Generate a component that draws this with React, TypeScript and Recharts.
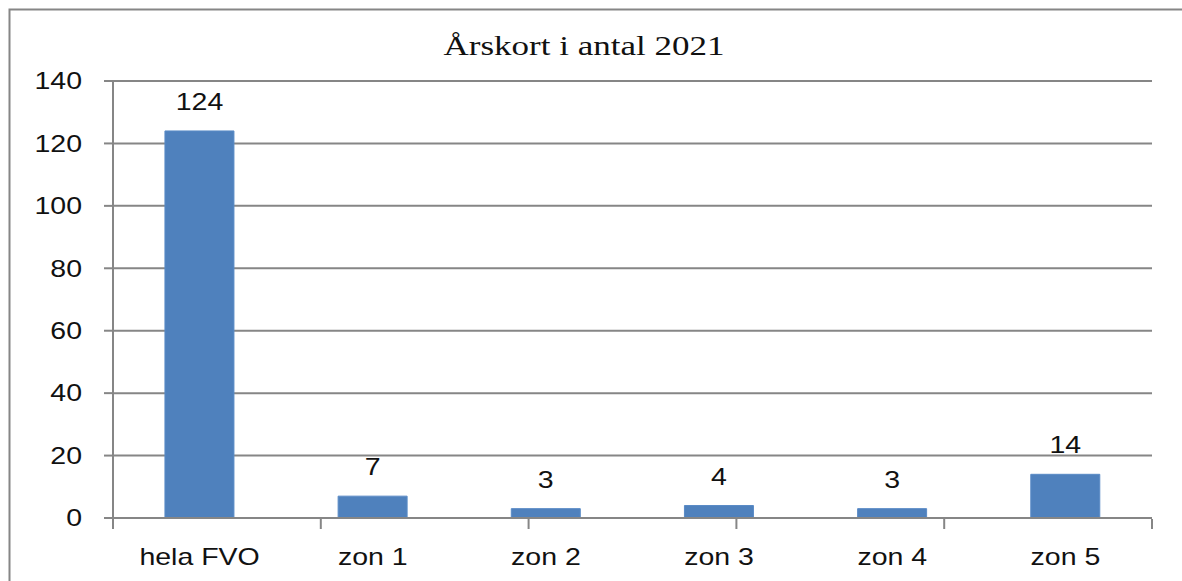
import { BarChart, Bar, XAxis, YAxis, CartesianGrid, LabelList } from "recharts";

const categories = ["hela FVO", "zon 1", "zon 2", "zon 3", "zon 4", "zon 5"];
const values = [124, 7, 3, 4, 3, 14];
const yTicks = [0, 20, 40, 60, 80, 100, 120, 140];
const title = "Årskort i antal 2021";

// category boundaries (0..n) for the tick marks under the x axis
const edges = categories.map((_, i) => i).concat(categories.length);

const data = categories.map((name, i) => ({ name, value: values[i] }));

const W = 1182;
const H = 581;
const GRAY = "#868686";
const BLUE = "#4f81bd";
const SANS = "'Liberation Sans', Arial, sans-serif";
const STRETCH = 1.24;

function YTick(props: any) {
  const { x, y, payload } = props;
  return (
    <text
      transform={`translate(${x},${y}) scale(${STRETCH},1)`}
      textAnchor="end"
      dy="0.36em"
      fontFamily={SANS}
      fontSize={23}
      fill="#111"
    >
      {payload.value}
    </text>
  );
}

function XTick(props: any) {
  const { x, y, payload } = props;
  return (
    <text
      transform={`translate(${x},${y + 47}) scale(${STRETCH},1)`}
      textAnchor="middle"
      fontFamily={SANS}
      fontSize={23}
      fill="#111"
    >
      {payload.value}
    </text>
  );
}

function BarLabel(props: any) {
  const { x, y, width, value } = props;
  return (
    <text
      transform={`translate(${x + width / 2},${y - 21}) scale(${STRETCH},1)`}
      textAnchor="middle"
      fontFamily={SANS}
      fontSize={23}
      fill="#111"
    >
      {value}
    </text>
  );
}

const NoTick = () => <g />;

export default function App() {
  return (
    <div style={{ position: "absolute", left: 0, top: 0, width: W, height: H, overflow: "hidden", background: "#fff" }}>
      <BarChart
        width={W}
        height={H}
        data={data}
        margin={{ top: 81, right: 30, bottom: 61, left: 0 }}
        barCategoryGap="30%"
      >
        <CartesianGrid vertical={false} stroke={GRAY} strokeWidth={2} />
        <XAxis
          dataKey="name"
          height={1}
          axisLine={{ stroke: GRAY, strokeWidth: 2 }}
          tickLine={false}
          tickSize={0}
          tickMargin={0}
          tick={<XTick />}
          interval={0}
        />
        <XAxis
          xAxisId="edges"
          type="number"
          domain={[0, categories.length]}
          ticks={edges}
          tick={<NoTick />}
          axisLine={false}
          tickLine={{ stroke: GRAY, strokeWidth: 2 }}
          tickSize={10}
          height={1}
        />
        <YAxis
          width={113}
          domain={[0, 140]}
          ticks={yTicks}
          axisLine={{ stroke: GRAY, strokeWidth: 2 }}
          tickLine={{ stroke: GRAY, strokeWidth: 2 }}
          tickSize={9}
          tickMargin={22}
          tick={<YTick />}
        />
        <Bar dataKey="value" fill={BLUE} stroke="#5a8bc6" strokeWidth={1} isAnimationActive={false}>
          <LabelList dataKey="value" content={<BarLabel />} />
        </Bar>
      </BarChart>
      <svg
        width={W}
        height={H}
        style={{ position: "absolute", left: 0, top: 0, pointerEvents: "none" }}
      >
        <polyline points={`9.5,${H} 9.5,9.5 ${W},9.5`} fill="none" stroke={GRAY} strokeWidth={2} />
        <text
          transform={`translate(584,54.5) scale(1.25,1)`}
          textAnchor="middle"
          fontFamily="'Liberation Serif', 'Times New Roman', serif"
          fontSize={28}
          fill="#111"
        >
          {title}
        </text>
      </svg>
    </div>
  );
}
